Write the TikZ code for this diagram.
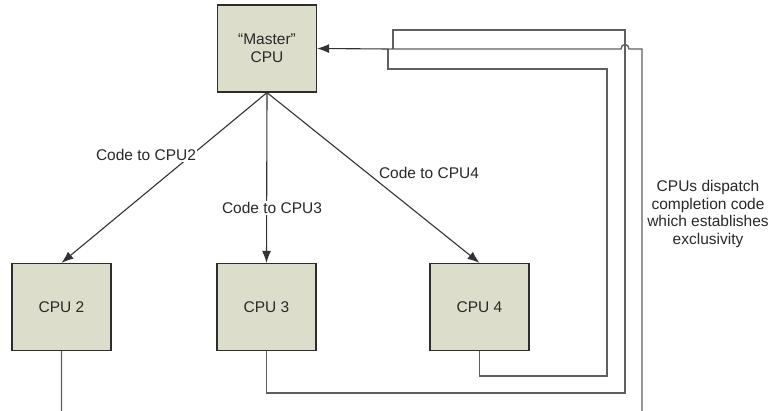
\documentclass[tikz,border=0pt]{standalone}
\usepackage{fontspec}
\setmainfont{Liberation Sans}
\usetikzlibrary{arrows.meta}
\definecolor{boxfill}{RGB}{220,222,203}
\definecolor{boxline}{RGB}{45,45,45}
\definecolor{wire}{RGB}{95,95,95}
\definecolor{arrowline}{RGB}{50,50,50}
\definecolor{txt}{RGB}{40,40,40}

\begin{document}
\begin{tikzpicture}[x=1pt,y=-1pt,
  cpu/.style={draw=boxline, fill=boxfill, line width=1.2pt, minimum width=99pt,
    minimum height=87pt, inner sep=0pt, align=center, text=txt,
    font=\fontsize{15.5}{18}\selectfont},
  feed/.style={draw=arrowline, line width=1.1pt, -{Latex[length=12pt,width=9pt]}},
  ret/.style={draw=wire, line width=1.4pt},
  lbl/.style={fill=white, inner sep=1.5pt, text=txt, font=\fontsize{15.5}{18}\selectfont},
]
\useasboundingbox (0,0) rectangle (777,411);
\clip (0,0) rectangle (777,411);

% processors
\node[cpu] (master) at (267,48.5) {``Master''\\CPU};
\node[cpu] (cpu2) at (61.5,307) {CPU 2};
\node[cpu] (cpu3) at (266.5,307) {CPU 3};
\node[cpu] (cpu4) at (479.5,307) {CPU 4};

% code handed out by the master
\draw[feed] (master.south) -- (cpu2.north);
\draw[feed] (master.south) -- (cpu3.north);
\draw[feed] (master.south) -- (cpu4.north);
\node[lbl] (l2) at (146,155) {Code to CPU2};
\node[lbl] (l3) at (272,208) {Code to CPU3};
\node[lbl] (l4) at (429,173) {Code to CPU4};

% completion paths back to the master
\coordinate (j4) at (388,49);
\coordinate (j3) at (393,49);
\coordinate (r4) at (607,69);
\coordinate (r3) at (625,30);
\coordinate (r2) at (642,49);
\coordinate (b4) at (479.5,376);
\coordinate (b3) at (625,393);
\coordinate (b2) at (61.5,425);
\coordinate (h1) at (629,49);
\coordinate (h2) at (621,49);

\draw[ret] (cpu4.south) -- (b4) -| (r4) -| (j4);
\draw[ret] (cpu3.south) |- (b3) -- (r3) -| (j3);
\draw[ret] (cpu2.south) -- (b2) -| (r2) -- (h1)
  .. controls (629,43) and (621,43) .. (h2) -- (j4);
\draw[feed] (j4) -- (master.east);

\node[align=center, text=txt, font=\fontsize{15.5}{17.5}\selectfont] (note) at (708,214)
  {CPUs dispatch\\completion code\\which establishes\\exclusivity};
\end{tikzpicture}
\end{document}
